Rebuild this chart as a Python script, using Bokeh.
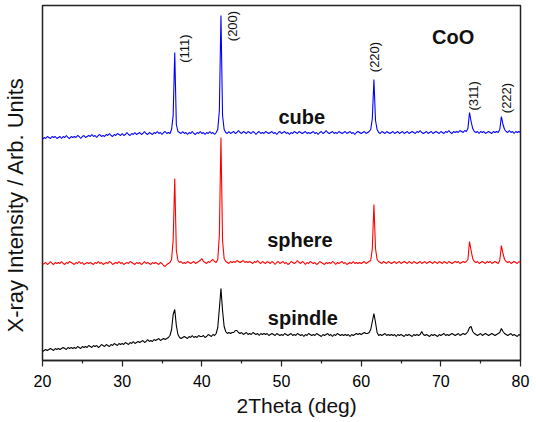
import numpy as np
from bokeh.plotting import figure
from bokeh.models import Range1d, FixedTicker, Title, LinearAxis
from bokeh.core.properties import value
from bokeh.embed import file_html
from bokeh.resources import INLINE

# 2Theta scan positions (deg), 0.2 deg step
two_theta = [round(20 + 0.2 * i, 1) for i in range(301)]

# intensities (arbitrary units, already vertically offset as in the figure)
cube = [
    221, 223, 222, 224, 223, 222, 224, 223, 224, 222,
    223, 224, 222, 224, 223, 225, 223, 222, 224, 223,
    224, 223, 225, 224, 222, 224, 225, 223, 224, 225,
    224, 226, 224, 225, 223, 225, 226, 224, 225, 224,
    226, 225, 227, 225, 224, 226, 225, 227, 226, 225,
    227, 225, 226, 228, 226, 225, 227, 226, 228, 226,
    227, 228, 226, 227, 229, 227, 226, 228, 227, 226,
    228, 227, 229, 227, 228, 226, 228, 229, 227, 228,
    227, 231, 245, 308, 236, 229, 228, 227, 229, 227,
    228, 226, 228, 227, 229, 227, 226, 228, 227, 229,
    227, 228, 226, 228, 227, 229, 227, 228, 226, 228,
    231, 250, 345, 245, 231, 228, 227, 229, 227, 228,
    229, 227, 228, 230, 228, 227, 229, 228, 227, 229,
    228, 227, 229, 228, 226, 228, 229, 227, 228, 227,
    229, 228, 227, 228, 229, 227, 228, 226, 228, 229,
    227, 228, 229, 227, 228, 226, 228, 227, 229, 228,
    227, 229, 228, 227, 228, 229, 227, 228, 227, 228,
    229, 227, 228, 226, 228, 229, 227, 228, 230, 228,
    227, 228, 229, 227, 228, 227, 229, 228, 227, 228,
    229, 227, 228, 229, 227, 228, 226, 228, 229, 228,
    227, 228, 229, 227, 228, 229, 231, 242, 281, 240,
    231, 228, 227, 229, 228, 227, 229, 228, 227, 228,
    229, 227, 228, 229, 227, 228, 229, 227, 228, 229,
    227, 228, 229, 228, 227, 229, 228, 230, 228, 227,
    228, 229, 227, 228, 229, 227, 228, 229, 228, 227,
    229, 228, 227, 229, 228, 230, 228, 227, 229, 228,
    229, 228, 230, 229, 228, 230, 229, 232, 248, 239,
    232, 229, 228, 229, 227, 229, 228, 229, 227, 228,
    229, 228, 227, 229, 228, 229, 228, 231, 244, 236,
    231, 229, 228, 230, 228, 229, 227, 229, 228, 229,
    228,
]

sphere = [
    96, 97, 98, 96, 97, 99, 97, 96, 98, 97,
    98, 97, 99, 97, 96, 98, 97, 99, 98, 97,
    96, 98, 97, 99, 97, 98, 96, 97, 98, 97,
    98, 97, 96, 98, 97, 99, 97, 98, 96, 97,
    98, 97, 99, 98, 96, 97, 98, 97, 99, 97,
    98, 96, 97, 98, 97, 99, 98, 97, 96, 98,
    97, 98, 96, 97, 99, 97, 98, 97, 96, 98,
    97, 98, 97, 96, 98, 97, 95, 94, 96, 97,
    98, 101, 120, 182, 110, 100, 98, 99, 97, 98,
    97, 99, 98, 97, 98, 99, 97, 98, 99, 100,
    102, 99, 98, 97, 99, 98, 100, 101, 99, 98,
    101, 125, 223, 120, 102, 99, 98, 97, 99, 98,
    99, 98, 100, 99, 98, 99, 100, 98, 99, 98,
    99, 98, 97, 99, 98, 100, 98, 97, 99, 98,
    97, 99, 98, 97, 99, 98, 96, 98, 99, 97,
    98, 99, 97, 98, 96, 97, 99, 98, 97, 98,
    100, 98, 97, 99, 98, 96, 98, 97, 99, 98,
    97, 98, 96, 97, 99, 98, 97, 96, 98, 97,
    98, 97, 99, 98, 96, 98, 97, 98, 99, 97,
    98, 96, 97, 98, 97, 99, 97, 98, 97, 98,
    97, 98, 99, 97, 98, 99, 100, 112, 156, 112,
    101, 99, 98, 97, 99, 98, 97, 99, 98, 97,
    98, 99, 97, 98, 99, 97, 98, 99, 98, 97,
    99, 98, 97, 99, 98, 97, 98, 99, 97, 98,
    99, 97, 98, 99, 98, 97, 99, 98, 97, 99,
    98, 97, 99, 98, 97, 99, 98, 97, 98, 99,
    98, 99, 97, 98, 99, 98, 99, 101, 119, 110,
    102, 99, 98, 99, 97, 98, 99, 98, 97, 99,
    98, 99, 97, 98, 99, 98, 97, 100, 115, 107,
    101, 99, 98, 99, 97, 98, 99, 98, 97, 99,
    98,
]

spindle = [
    9, 10, 11, 10, 11, 12, 11, 10, 12, 11,
    12, 11, 12, 13, 12, 11, 13, 12, 13, 12,
    13, 12, 14, 13, 12, 14, 13, 14, 13, 15,
    14, 13, 15, 14, 15, 13, 14, 16, 15, 14,
    16, 15, 14, 16, 15, 17, 16, 15, 17, 16,
    17, 16, 18, 17, 16, 18, 17, 19, 17, 18,
    19, 18, 19, 20, 18, 19, 21, 19, 20, 19,
    21, 20, 21, 22, 20, 21, 22, 21, 22, 23,
    25, 31, 46, 51, 35, 26, 23, 22, 23, 24,
    23, 22, 24, 23, 25, 23, 24, 23, 25, 24,
    24, 25, 23, 24, 26, 25, 24, 26, 25, 27,
    33, 52, 72, 50, 34, 29, 27, 28, 27, 28,
    28, 30, 30, 28, 27, 28, 26, 27, 28, 26,
    27, 26, 28, 27, 26, 27, 25, 27, 26, 27,
    26, 27, 25, 26, 27, 26, 25, 27, 26, 25,
    26, 25, 27, 26, 25, 26, 27, 25, 26, 25,
    27, 26, 25, 26, 24, 26, 25, 27, 26, 25,
    26, 25, 27, 26, 25, 24, 26, 25, 26, 27,
    25, 26, 24, 26, 25, 27, 26, 25, 26, 25,
    26, 25, 26, 24, 26, 25, 26, 27, 26, 27,
    26, 27, 28, 27, 27, 28, 31, 39, 47, 38,
    28, 25, 26, 25, 26, 27, 25, 26, 25, 26,
    25, 26, 24, 26, 25, 26, 25, 24, 26, 25,
    26, 25, 24, 26, 25, 26, 25, 26, 29, 26,
    25, 26, 25, 24, 26, 25, 26, 25, 24, 26,
    25, 26, 27, 25, 26, 25, 26, 27, 26, 25,
    26, 27, 25, 26, 27, 26, 27, 29, 33, 34,
    29, 27, 26, 25, 26, 27, 25, 26, 27, 26,
    25, 26, 27, 26, 25, 26, 27, 28, 32, 29,
    27, 26, 25, 26, 27, 25, 26, 25, 24, 26,
    25,
]

sample_names = ["cube", "sphere", "spindle"]
series_colors = ["#0000ff", "#ff0000", "#000000"]
peak_labels = ["(111)", "(200)", "(220)", "(311)", "(222)"]
x_ticks = [20, 30, 40, 50, 60, 70, 80]
x_minor_ticks = [25, 35, 45, 55, 65, 75]

FONT = "Liberation Sans"

p = figure(width=536, height=422, x_range=Range1d(20, 80), y_range=Range1d(0, 355),
           output_backend="svg", toolbar_location=None, y_axis_location=None,
           min_border_left=42, min_border_right=16, min_border_top=5, min_border_bottom=62,
           background_fill_color="white", border_fill_color="white")
p.xgrid.visible = False
p.ygrid.visible = False
p.outline_line_color = "#222222"
p.outline_line_width = 1.5
p.outline_line_alpha = 1.0

ax = p.xaxis[0]
ax.ticker = FixedTicker(ticks=x_ticks, minor_ticks=x_minor_ticks)
ax.axis_line_color = "#222222"
ax.axis_line_width = 1.5
ax.major_tick_line_color = "#222222"
ax.minor_tick_line_color = "#222222"
ax.major_tick_line_width = 1.2
ax.minor_tick_line_width = 1.2
ax.major_tick_in = 0
ax.major_tick_out = 6
ax.minor_tick_in = 0
ax.minor_tick_out = 3
ax.major_label_text_font = FONT
ax.major_label_text_font_size = "16px"
ax.major_label_text_color = "black"
ax.major_label_standoff = 8

# bare left axis (no visible ticks or labels) that spaces the y title away from the frame
yax = LinearAxis(ticker=FixedTicker(ticks=[0]), axis_line_color=None,
                 major_tick_in=0, major_tick_out=12, minor_tick_in=0, minor_tick_out=0,
                 major_tick_line_color=None, minor_tick_line_color=None,
                 major_label_text_color=None, major_label_text_font_size="1px",
                 major_label_standoff=0)
p.add_layout(yax, "left")

for ys, c in zip([cube, sphere, spindle], series_colors):
    p.line(two_theta, ys, line_color=c, line_width=1.1)

# peak indices (rotated)
p.text(x=[37.78, 43.8, 61.67, 74.04, 78.2], y=[297.7, 319.3, 288.3, 250, 247.3],
       text=peak_labels, angle=np.pi / 2, text_font=value(FONT), text_font_size="13px",
       text_align="left", text_baseline="middle", text_color="#111111")

# sample names and compound
p.text(x=[49.62, 48.2, 48.28, 68.9], y=[244, 121, 42.5, 324],
       text=sample_names + ["CoO"],
       text_font=value(FONT), text_font_size="20px", text_font_style="bold",
       text_align="left", text_baseline="middle", text_color="#111111")

p.add_layout(Title(text="2Theta (deg)", align="left", offset=194, text_font=FONT,
                   text_font_size="21px", text_font_style="normal", text_color="#111111",
                   standoff=4), "below")
p.add_layout(Title(text="X-ray Intensity / Arb. Units", align="left", offset=28,
                   vertical_align="top", text_font=FONT, text_font_size="22px",
                   text_font_style="normal", text_color="#111111", standoff=2), "left")

open("out.html", "w").write(file_html(p, INLINE))
